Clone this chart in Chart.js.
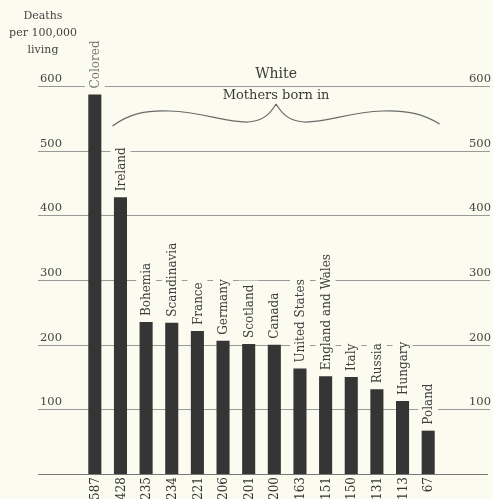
<!DOCTYPE html>
<html>
<head>
<meta charset="utf-8">
<script src="https://cdn.jsdelivr.net/npm/chart.js@4/dist/chart.umd.min.js"></script>
<style>
  html, body { margin: 0; padding: 0; background: #fbfbef; }
  canvas { display: block; }
</style>
</head>
<body>
<canvas id="deaths_chart" width="493" height="499"></canvas>
<script>
// death rates per 100,000 living, by colour / mother's birthplace
const categories = ['Colored', 'Ireland', 'Bohemia', 'Scandinavia', 'France', 'Germany', 'Scotland',
    'Canada', 'United States', 'England and Wales', 'Italy', 'Russia', 'Hungary', 'Poland'];
const deaths = [587, 428, 235, 234, 221, 206, 201, 200, 163, 151, 150, 131, 113, 67];
const y_ticks = [100, 200, 300, 400, 500, 600];

const bg = '#fbfbef';
const serif = '"DejaVu Serif", "Liberation Serif", serif';

// one half of the brace, dir = 1 from the left end, -1 from the right end
function halfBrace(ctx, E, T, h, dir) {
    const px = function (f) { return E + dir * h * f; };
    ctx.moveTo(E, dir > 0 ? 126 : 124);
    ctx.bezierCurveTo(px(0.1), 114, px(0.2), 110, px(0.35), 111);
    ctx.bezierCurveTo(px(0.55), 112, px(0.7), 123, px(0.83), 122);
    ctx.bezierCurveTo(px(0.93), 121, px(0.97), 112, T, 104);
}

// gridlines, tick labels, bar names, values and the brace
const decorations = {
    id: 'decorations',
    beforeDatasetsDraw(chart) {
        const ctx = chart.ctx;
        const y = chart.scales.y;
        ctx.save();
        ctx.lineWidth = 1;
        ctx.strokeStyle = '#999';
        y_ticks.forEach(function (t) {
            const py = Math.round(y.getPixelForValue(t)) + 0.5;
            ctx.beginPath();
            ctx.moveTo(38, py);
            ctx.lineTo(490, py);
            ctx.stroke();
        });
        // baseline
        const p0 = Math.round(y.getPixelForValue(0)) + 0.5;
        ctx.strokeStyle = '#777';
        ctx.beginPath();
        ctx.moveTo(38, p0);
        ctx.lineTo(488, p0);
        ctx.stroke();
        ctx.restore();
    },
    afterDatasetsDraw(chart) {
        const ctx = chart.ctx;
        const x = chart.scales.x;
        const y = chart.scales.y;
        ctx.save();

        // y tick labels, sitting on top of the lines
        ctx.fillStyle = '#444';
        ctx.font = '11.5px ' + serif;
        ctx.textBaseline = 'alphabetic';
        y_ticks.forEach(function (t) {
            const py = y.getPixelForValue(t) - 4;
            ctx.textAlign = 'center';
            ctx.fillText(String(t), 51, py);
            ctx.textAlign = 'right';
            ctx.fillText(String(t), 491, py);
        });

        // axis title
        ctx.font = '11px ' + serif;
        ctx.textAlign = 'center';
        ctx.textBaseline = 'middle';
        ctx.fillText('Deaths', 43, 16);
        ctx.fillText('per 100,000', 43, 33);
        ctx.fillText('living', 43, 50);

        // names above bars and values below, rotated
        ctx.font = '12px ' + serif;
        for (let i = 0; i < categories.length; i++) {
            const cx = x.getPixelForValue(i);
            const top = y.getPixelForValue(deaths[i]);
            const w = ctx.measureText(categories[i]).width;
            ctx.fillStyle = bg;
            ctx.fillRect(cx - 10, top - 6 - w - 4, 20, w + 8);
            ctx.save();
            ctx.translate(cx, top - 6);
            ctx.rotate(-Math.PI / 2);
            ctx.fillStyle = i === 0 ? '#777' : '#3e3e3e';
            ctx.textAlign = 'left';
            ctx.textBaseline = 'middle';
            ctx.fillText(categories[i], 0, 1);
            ctx.restore();
        }
        ctx.font = '12px ' + serif;
        const base = y.getPixelForValue(0);
        for (let i = 0; i < deaths.length; i++) {
            const cx = x.getPixelForValue(i);
            ctx.save();
            ctx.translate(cx, base + 3);
            ctx.rotate(-Math.PI / 2);
            ctx.fillStyle = '#333';
            ctx.textAlign = 'right';
            ctx.textBaseline = 'middle';
            ctx.fillText(String(deaths[i]), 0, 1);
            ctx.restore();
        }

        // header over the white group
        const L = x.getPixelForValue(1) - 8;
        const R = x.getPixelForValue(categories.length - 1) + 11.5;
        const T = (L + R) / 2;
        ctx.fillStyle = '#3a3a3a';
        ctx.textAlign = 'center';
        ctx.textBaseline = 'middle';
        ctx.font = '14px ' + serif;
        ctx.fillText('White', T, 74);
        ctx.font = '13px ' + serif;
        ctx.fillText('Mothers born in', T, 96);

        // curly brace
        ctx.strokeStyle = '#6a6a6a';
        ctx.lineWidth = 1.2;
        ctx.beginPath();
        halfBrace(ctx, L, T, T - L, 1);
        halfBrace(ctx, R, T, R - T, -1);
        ctx.stroke();

        ctx.restore();
    }
};

const canvas = document.getElementById('deaths_chart');
const setup = {
    type: 'bar',
    data: {
        labels: categories,
        datasets: [{
            data: deaths,
            backgroundColor: '#353535',
            borderWidth: 0,
            categoryPercentage: 1,
            barPercentage: 0.51
        }]
    },
    options: {
        responsive: false,
        animation: false,
        layout: { padding: { left: 82, right: 52, top: 86, bottom: 25 } },
        plugins: { legend: { display: false }, tooltip: { enabled: false } },
        scales: {
            x: { display: false },
            y: { display: false, min: 0, max: 600 }
        }
    },
    plugins: [decorations]
};
new Chart(canvas, setup);
</script>
</body>
</html>
